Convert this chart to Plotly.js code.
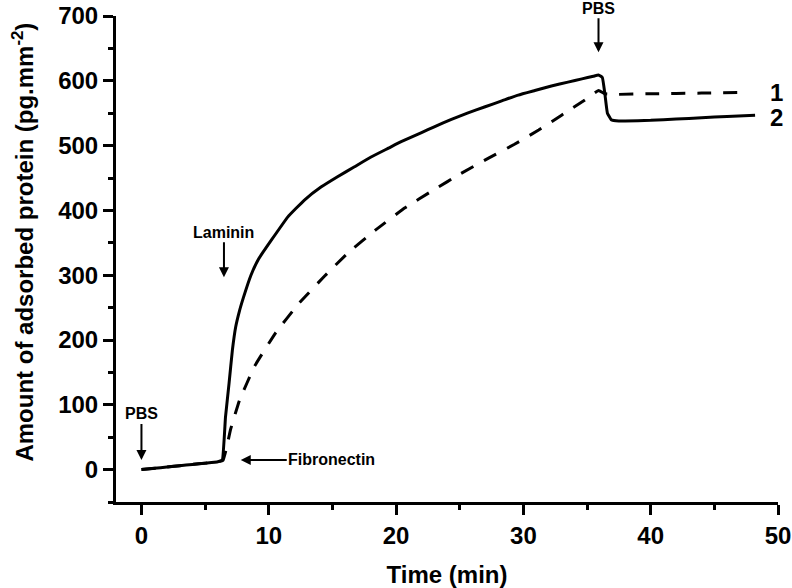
<!DOCTYPE html>
<html>
<head>
<meta charset="utf-8">
<script src="https://cdn.plot.ly/plotly-3.0.1.min.js"></script>
<style>
  html, body { margin: 0; padding: 0; background: #fff; }
  #chart { width: 792px; height: 588px; }
</style>
</head>
<body>
<div id="chart"></div>
<script>
// Curve 2 (solid): Laminin
const timeLaminin = [0, 1, 2, 3, 4, 5, 6, 6.35, 6.6, 6.88, 7.14, 7.4, 7.7, 8.0, 8.6, 9.2, 10.2, 11.5, 12.8, 14.1, 15.4, 16.7, 18, 19.4, 20.4, 22, 23, 24.3, 25.6, 27, 28.3, 29.6, 30.9, 32.2, 33.5, 34.6, 35.5, 35.9, 36.2, 36.4, 36.6, 36.9, 37.5, 38, 40, 42, 44, 46, 48.2];
const amountLaminin = [0, 2, 4, 6, 8, 10, 12, 15, 81, 133, 184, 220, 245, 265, 300, 325, 354, 390, 416, 436, 452, 467, 482, 496, 506, 520, 529, 540, 550, 560, 569, 578, 585, 592, 598, 603, 607, 609, 605, 580, 550, 540, 538, 538, 539, 541, 543, 545, 547];

// Curve 1 (dashed): Fibronectin
const timeFibronectin = [0, 2, 4, 6, 6.4, 6.7, 7.0, 7.7, 8.9, 10.5, 12.3, 14.35, 16.2, 18.4, 20.7, 22.9, 25.1, 27.3, 29.3, 31.2, 33, 34.8, 35.9, 36.4, 37.2, 40, 44, 47.5];
const amountFibronectin = [0, 4, 8, 12, 14, 35, 62, 107, 160, 210, 255, 298, 334, 370, 404, 431, 457, 481, 502, 524, 547, 570, 585, 580, 579, 580, 581, 582];

const xTickVals = [0, 10, 20, 30, 40, 50];
const yTickVals = [0, 100, 200, 300, 400, 500, 600, 700];

const FONT = 'Arial, "Liberation Sans", sans-serif';

const traces = [
  {
    x: timeFibronectin, y: amountFibronectin, type: 'scatter', mode: 'lines',
    line: { color: '#000', width: 3, dash: '14px,12px', shape: 'spline', smoothing: 0.3 },
    showlegend: false, hoverinfo: 'skip'
  },
  {
    x: timeLaminin, y: amountLaminin, type: 'scatter', mode: 'lines',
    line: { color: '#000', width: 3, shape: 'spline', smoothing: 0.3 },
    showlegend: false, hoverinfo: 'skip'
  }
];

const annFont = { family: FONT, size: 16, color: '#000', weight: 'bold' };
const layout = {
  width: 792, height: 588,
  margin: { l: 115.5, r: 14, t: 16, b: 86 },
  paper_bgcolor: '#fff', plot_bgcolor: '#fff',
  showlegend: false,
  xaxis: {
    range: [-2, 50], tickvals: xTickVals, ticktext: xTickVals.map(String),
    showgrid: false, zeroline: false,
    showline: true, linecolor: '#000', linewidth: 3,
    ticks: 'outside', ticklen: 10, tickwidth: 3, tickcolor: '#000',
    minor: { ticks: 'outside', ticklen: 5, tickwidth: 3, tickcolor: '#000', dtick: 5, tick0: 0, showgrid: false },
    tickfont: { family: FONT, size: 24, color: '#000', weight: 'bold' },
    title: { text: 'Time (min)', font: { family: FONT, size: 24, color: '#000', weight: 'bold' }, standoff: 20 }
  },
  yaxis: {
    range: [-50, 700], tickvals: yTickVals, ticktext: yTickVals.map(String),
    showgrid: false, zeroline: false,
    showline: true, linecolor: '#000', linewidth: 3,
    ticks: 'outside', ticklen: 10, tickwidth: 3, tickcolor: '#000',
    minor: { ticks: 'outside', ticklen: 5, tickwidth: 3, tickcolor: '#000', dtick: 50, tick0: 0, showgrid: false },
    tickfont: { family: FONT, size: 24, color: '#000', weight: 'bold' }
  },
  annotations: [
    { x: 0, y: 15, xref: 'x', yref: 'y', ax: 0, ay: -46, text: 'PBS', showarrow: true,
      arrowhead: 2, arrowsize: 1, arrowwidth: 2, arrowcolor: '#000', font: annFont },
    { x: 7.8, y: 15, xref: 'x', yref: 'y', ax: 91, ay: 0, text: 'Fibronectin', showarrow: true,
      arrowhead: 2, arrowsize: 1, arrowwidth: 2, arrowcolor: '#000', font: annFont },
    { x: 6.48, y: 297, xref: 'x', yref: 'y', ax: 0, ay: -45, text: 'Laminin', showarrow: true,
      arrowhead: 2, arrowsize: 1, arrowwidth: 2, arrowcolor: '#000', font: annFont },
    { x: 35.9, y: 644, xref: 'x', yref: 'y', ax: 0, ay: -44, text: 'PBS', showarrow: true,
      arrowhead: 2, arrowsize: 1, arrowwidth: 2, arrowcolor: '#000', font: annFont },
    { x: 49.85, y: 582, xref: 'x', yref: 'y', text: '1', showarrow: false, borderpad: 0,
      font: { family: FONT, size: 24, color: '#000', weight: 'bold' } },
    { x: 49.85, y: 543, xref: 'x', yref: 'y', text: '2', showarrow: false, borderpad: 0,
      font: { family: FONT, size: 24, color: '#000', weight: 'bold' } },
    { x: 0, y: 0, xref: 'paper', yref: 'paper', xanchor: 'center', yanchor: 'middle',
      text: 'Amount of adsorbed protein (pg.mm<sup>-2</sup>)', textangle: -90, showarrow: false,
      font: { family: FONT, size: 24, color: '#000', weight: 'bold' } }
  ]
};
// y-title positioned in pixel terms via paper coords
(function () {
  const plotW = 792 - 115.5 - 14, plotH = 588 - 16 - 86;
  const a = layout.annotations[6];
  a.x = (22 - 115.5) / plotW;
  a.y = (588 - 86 - 242) / plotH;
})();

Plotly.newPlot('chart', traces, layout, { staticPlot: true, displayModeBar: false });
</script>
</body>
</html>
